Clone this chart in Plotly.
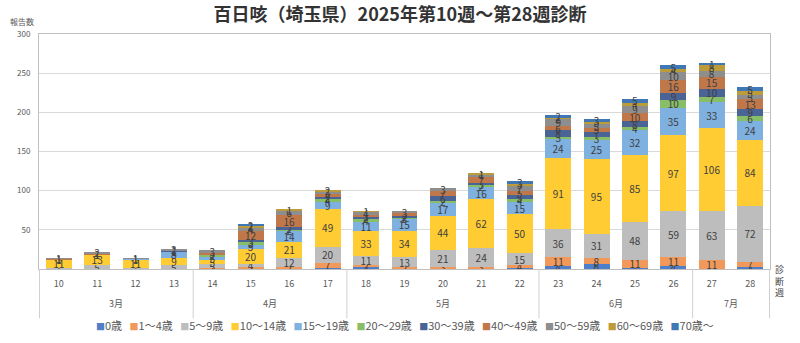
import plotly.graph_objects as go

weeks = [str(w) for w in range(10, 29)]
month_names = ["3月", "4月", "5月", "6月", "7月"]
month_start = [0, 4, 8, 13, 17]
month_end = [3, 7, 12, 16, 18]

series_names = ["0歳", "1～4歳", "5～9歳", "10～14歳", "15～19歳", "20～29歳",
                "30～39歳", "40～49歳", "50～59歳", "60～69歳", "70歳～"]

age_0 = [0, 0, 0, 0, 0, 0, 0, 1, 3, 0, 0, 0, 1, 4, 6, 1, 4, 0, 2]
age_1_4 = [0, 0, 0, 0, 1, 2, 2, 7, 2, 2, 3, 3, 4, 11, 8, 11, 11, 11, 7]
age_5_9 = [1, 5, 1, 5, 5, 4, 12, 20, 11, 13, 21, 24, 15, 36, 31, 48, 59, 63, 72]
age_10_14 = [11, 13, 11, 9, 5, 20, 21, 49, 33, 34, 44, 62, 50, 91, 95, 85, 97, 106, 84]
age_15_19 = [0, 1, 1, 8, 5, 5, 14, 9, 11, 15, 17, 16, 15, 24, 25, 32, 35, 33, 24]
age_20_29 = [0, 0, 0, 0, 2, 3, 2, 4, 4, 2, 2, 2, 4, 3, 3, 4, 10, 7, 6]
age_30_39 = [0, 0, 0, 1, 0, 3, 2, 2, 2, 2, 6, 3, 5, 8, 7, 8, 9, 10, 9]
age_40_49 = [1, 1, 0, 1, 3, 12, 16, 4, 3, 3, 7, 7, 5, 6, 5, 10, 16, 15, 13]
age_50_59 = [1, 2, 1, 2, 3, 4, 6, 3, 4, 3, 3, 4, 7, 9, 5, 9, 10, 8, 5]
age_60_69 = [0, 0, 0, 0, 0, 2, 1, 2, 1, 0, 0, 1, 3, 2, 3, 4, 4, 8, 5]
age_70 = [0, 0, 0, 0, 0, 2, 0, 0, 0, 0, 0, 0, 3, 2, 3, 5, 5, 1, 5]

y_ticks = [50, 100, 150, 200, 250, 300]

series_values = [age_0, age_1_4, age_5_9, age_10_14, age_15_19, age_20_29,
                 age_30_39, age_40_49, age_50_59, age_60_69, age_70]
colors = ["#4F7FC9", "#F0995A", "#BDBDBD", "#FFCC33", "#7EB0E0", "#88BE68",
          "#4A6496", "#C0784A", "#8E8E8E", "#BC9B3A", "#3F78B4"]

FONT = "Noto Sans CJK JP"
fig = go.Figure()
for name, vals, col in zip(series_names, series_values, colors):
    fig.add_trace(go.Bar(
        x=weeks, y=vals, name=name, marker=dict(color=col, line=dict(width=0)),
        text=[str(v) if v > 0 else "" for v in vals],
        textposition="inside", insidetextanchor="middle", textangle=0,
        textfont=dict(size=10, color="#404040", family=FONT),
        showlegend=False,
    ))

fig.update_layout(
    barmode="stack", bargap=0.325,
    width=800, height=343,
    margin=dict(l=39, r=30, t=34, b=74),
    paper_bgcolor="white", plot_bgcolor="white",
    font=dict(family=FONT, color="#595959"),
    uniformtext=dict(minsize=10, mode="show"),
    title=dict(text="<b>百日咳（埼玉県）2025年第10週～第28週診断</b>",
               x=0.5, xanchor="center", y=1 - 15 / 343, yanchor="middle",
               yref="container", font=dict(size=18, color="#333333", family=FONT)),
)
fig.update_xaxes(type="category", showline=True, mirror=True, linecolor="#BFBFBF",
                 linewidth=1, tickfont=dict(size=9, color="#595959"),
                 ticklabelstandoff=6, ticks="")
fig.update_yaxes(range=[0, 300], tickvals=y_ticks, showgrid=True, gridcolor="#D9D9D9",
                 gridwidth=1, showline=True, mirror=True, linecolor="#BFBFBF",
                 tickfont=dict(size=8, color="#595959"), ticklabelstandoff=6, ticks="",
                 zeroline=False)

# month separators and labels below the axis
seps = [-0.5] + [e + 0.5 for e in month_end]
for s in seps:
    fig.add_shape(type="line", xref="x", yref="paper", x0=s, x1=s, y0=0, y1=-0.21,
                  line=dict(color="#D0D0D0", width=1))
for nm, a, b in zip(month_names, month_start, month_end):
    fig.add_annotation(x=(a + b) / 2, y=-0.145, xref="x", yref="paper", text=nm,
                       showarrow=False, font=dict(size=9, color="#595959"),
                       yanchor="middle")

fig.add_annotation(x=-0.023, y=1.055, xref="paper", yref="paper", text="報告数",
                   showarrow=False, font=dict(size=8, color="#595959"),
                   xanchor="center", yanchor="middle")
fig.add_annotation(x=1.013, y=-0.05, xref="paper", yref="paper", text="診<br>断<br>週",
                   showarrow=False, font=dict(size=9, color="#404040"),
                   xanchor="center", yanchor="middle")

# legend row
parts = []
for name, col in zip(series_names, colors):
    parts.append(f'<span style="color:{col};font-size:9px">■</span>{name}')
legend_text = "\u00a0\u00a0\u00a0".join(parts)
fig.add_annotation(x=0.5, y=-0.238, xref="paper", yref="paper", text=legend_text,
                   showarrow=False, font=dict(size=11, color="#595959"),
                   xanchor="center", yanchor="middle")

fig.write_html("out.html")
